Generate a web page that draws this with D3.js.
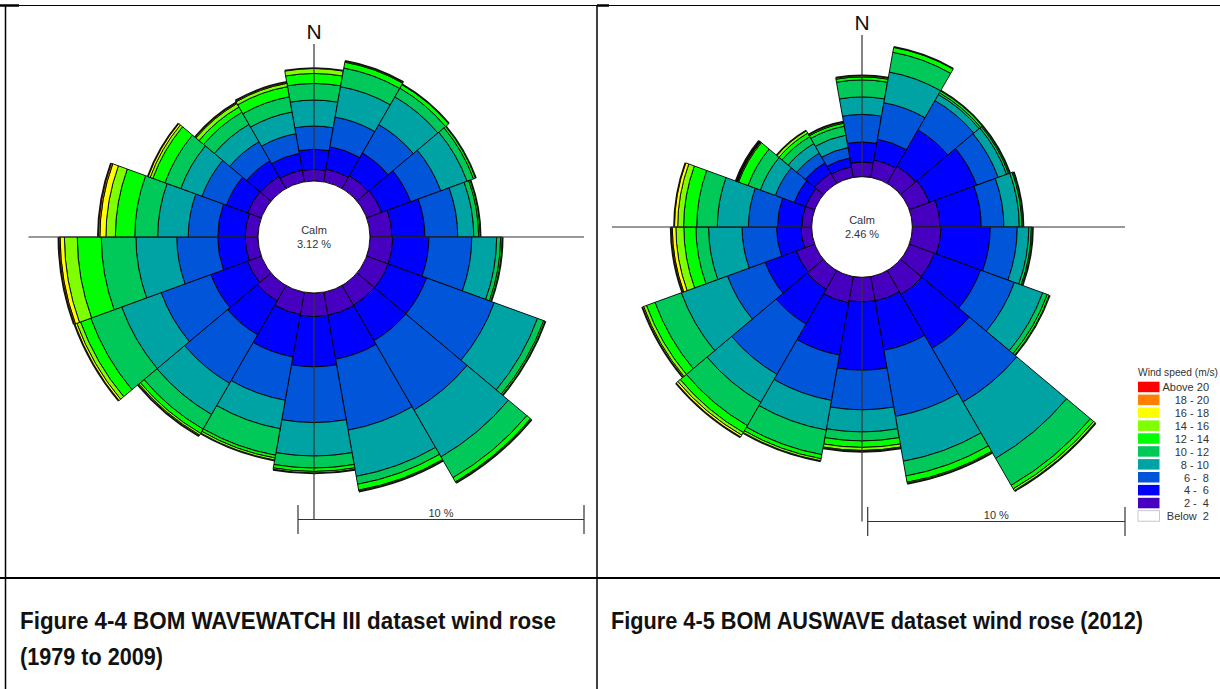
<!DOCTYPE html>
<html>
<head>
<meta charset="utf-8">
<script src="https://cdn.jsdelivr.net/npm/d3@7"></script>
<style>
  body { margin: 0; background: #fff; }
  svg text { font-family: "Liberation Sans", Arial, sans-serif; }
</style>
</head>
<body>
<svg id="chart" width="1220" height="689"></svg>
<script>
// Sector centres (deg from north, 20 deg sectors)
var directions = [0, 20, 40, 60, 80, 100, 120, 140, 160, 180, 200, 220, 240, 260, 280, 300, 320, 340];
// Speed classes stacked outwards, m/s
var speedBins = ["2 - 4", "4 - 6", "6 - 8", "8 - 10", "10 - 12", "12 - 14", "14 - 16", "16 - 18", "18 - 20", "Above 20"];
var binColors = ["#4700bf", "#0000ff", "#0055d8", "#00a3a3", "#00c95a", "#00ff00", "#80ff00", "#ffff00", "#ff8000", "#ff0000"];

// Frequency (%) per direction, one value per speed class
var wavewatchFreq = [
  [0.41, 0.70, 0.81, 0.91, 0.58, 0.35, 0.17, 0, 0, 0],
  [0.45, 0.80, 1.05, 1.08, 0.66, 0.21, 0.03, 0, 0, 0],
  [0.52, 0.91, 1.15, 1.12, 0.35, 0.14, 0, 0, 0, 0],
  [0.56, 1.08, 1.12, 0.98, 0.24, 0.07, 0, 0, 0, 0],
  [0.77, 1.15, 1.15, 0.56, 0.17, 0.05, 0, 0, 0, 0],
  [0.80, 1.26, 1.50, 0.87, 0.14, 0.05, 0, 0, 0, 0],
  [0.80, 1.43, 2.52, 1.61, 0.23, 0.05, 0, 0, 0, 0],
  [0.80, 1.43, 2.80, 1.89, 0.84, 0.17, 0.03, 0, 0, 0],
  [0.82, 1.56, 2.52, 1.64, 0.28, 0.21, 0.03, 0, 0, 0],
  [0.83, 1.75, 1.95, 1.17, 0.42, 0.12, 0.05, 0, 0, 0],
  [0.80, 1.50, 1.54, 1.01, 0.94, 0.10, 0.07, 0, 0, 0],
  [0.63, 1.36, 1.96, 1.26, 0.59, 0.17, 0.07, 0.03, 0, 0],
  [0.52, 1.36, 1.85, 1.47, 1.15, 0.38, 0.14, 0.07, 0, 0],
  [0.45, 0.96, 1.43, 1.43, 1.21, 0.84, 0.45, 0.15, 0.04, 0],
  [0.45, 0.96, 1.03, 1.07, 0.80, 0.68, 0.33, 0.21, 0.05, 0],
  [0.51, 0.79, 0.91, 0.79, 0.59, 0.45, 0.10, 0.07, 0, 0],
  [0.49, 0.63, 0.77, 0.70, 0.49, 0.21, 0.14, 0.03, 0, 0],
  [0.42, 0.59, 0.70, 0.77, 0.54, 0.36, 0.12, 0.03, 0, 0]
];
var wavewatchCalm = 3.12;

var auswaveFreq = [
  [0.57, 0.78, 1.07, 0.68, 0.66, 0.12, 0.04, 0, 0, 0],
  [0.69, 0.82, 1.44, 1.21, 0.78, 0.19, 0, 0, 0, 0],
  [0.77, 1.63, 1.32, 0.27, 0.08, 0.08, 0, 0, 0, 0],
  [0.84, 1.95, 0.89, 0.35, 0.08, 0.04, 0, 0, 0, 0],
  [1.08, 1.60, 0.88, 0.60, 0.10, 0.04, 0, 0, 0, 0],
  [1.12, 1.91, 1.05, 0.45, 0.10, 0.04, 0, 0, 0, 0],
  [1.04, 1.91, 1.40, 1.17, 0.19, 0.08, 0, 0, 0, 0],
  [1.08, 2.41, 2.41, 2.53, 1.21, 0.16, 0.08, 0, 0, 0],
  [0.96, 1.95, 2.61, 1.77, 0.58, 0.25, 0.04, 0, 0, 0],
  [0.96, 2.65, 1.54, 0.86, 0.35, 0.25, 0.12, 0.03, 0, 0],
  [1.04, 2.06, 1.79, 1.17, 0.97, 0.16, 0.08, 0, 0, 0],
  [0.84, 1.56, 2.26, 1.25, 1.05, 0.31, 0.12, 0.08, 0, 0],
  [0.77, 1.28, 1.56, 1.91, 1.09, 0.35, 0.12, 0.04, 0, 0],
  [0.42, 0.95, 1.34, 1.30, 0.49, 0.47, 0.31, 0.14, 0.04, 0],
  [0.38, 0.95, 1.13, 1.21, 0.80, 0.51, 0.23, 0.12, 0, 0],
  [0.38, 0.47, 0.78, 0.62, 0.51, 0.39, 0.04, 0.02, 0.02, 0.02],
  [0.46, 0.47, 0.43, 0.43, 0.31, 0.16, 0.10, 0, 0, 0],
  [0.42, 0.35, 0.41, 0.49, 0.35, 0.12, 0.04, 0, 0, 0]
];
var auswaveCalm = 2.46;

var legendLabels = ["Above 20", "18 - 20", "16 - 18", "14 - 16", "12 - 14", "10 - 12", "8 - 10", "6 -  8", "4 -  6", "2 -  4", "Below  2"];
var captions = [
  ["Figure 4-4 BOM WAVEWATCH III dataset wind rose", "(1979 to 2009)"],
  ["Figure 4-5 BOM AUSWAVE dataset wind rose (2012)"]
];
var captionWidths = [[536, 143], [532]];

var svg = d3.select('#chart');
var rad = Math.PI / 180;

// table grid
svg.append('line').attr('x1', 0).attr('x2', 1220).attr('y1', 5.5).attr('y2', 5.5).attr('stroke', '#000').attr('stroke-width', 1);
svg.append('line').attr('x1', 0).attr('x2', 19).attr('y1', 5.5).attr('y2', 5.5).attr('stroke', '#000').attr('stroke-width', 2.5);
svg.append('line').attr('x1', 597).attr('x2', 609).attr('y1', 5.5).attr('y2', 5.5).attr('stroke', '#000').attr('stroke-width', 2.5);
svg.append('line').attr('x1', 5.5).attr('x2', 5.5).attr('y1', 5).attr('y2', 689).attr('stroke', '#000').attr('stroke-width', 1.5);
svg.append('line').attr('x1', 597).attr('x2', 597).attr('y1', 5).attr('y2', 689).attr('stroke', '#000').attr('stroke-width', 1.5);
svg.append('line').attr('x1', 0).attr('x2', 1220).attr('y1', 578).attr('y2', 578).attr('stroke', '#000').attr('stroke-width', 2);

function drawRose(rose) {
  var g = svg.append('g').attr('transform', 'translate(' + rose.cx + ',' + rose.cy + ')');
  var r = d3.scaleLinear().domain([0, 10]).range([rose.calmRadius, rose.calmRadius + rose.tenPct]);
  var arc = d3.arc();

  // build stacked cells
  var cells = [], outers = [];
  rose.freq.forEach(function(row, i) {
    var cum = 0;
    row.forEach(function(v, j) {
      if (v > 0) {
        cells.push({ dir: directions[i], bin: j, from: cum, to: cum + v });
        cum += v;
      }
    });
    outers.push({ dir: directions[i], total: cum });
  });

  g.selectAll('path.cell')
    .data(cells)
    .enter()
    .append('path')
    .attr('class', 'cell')
    .attr('d', function(d) {
      return arc({ innerRadius: r(d.from), outerRadius: r(d.to),
                   startAngle: (d.dir - 10) * rad, endAngle: (d.dir + 10) * rad });
    })
    .attr('fill', function(d) { return binColors[d.bin]; })
    .attr('stroke', '#000')
    .attr('stroke-width', 0.9)
    .attr('stroke-linejoin', 'round');

  // darker rim on each sector
  g.selectAll('path.rim')
    .data(outers)
    .enter()
    .append('path')
    .attr('class', 'rim')
    .attr('d', function(d) {
      var p = d3.path();
      p.arc(0, 0, r(d.total) + 0.6, (d.dir - 10 - 90) * rad, (d.dir + 10 - 90) * rad);
      return p.toString();
    })
    .attr('fill', 'none')
    .attr('stroke', '#111')
    .attr('stroke-width', 1.6);

  // axis cross
  g.append('line').attr('x1', 0).attr('x2', 0).attr('y1', rose.axTop - rose.cy).attr('y2', rose.axBottom - rose.cy)
    .attr('stroke', '#333').attr('stroke-width', 1.2);
  g.append('line').attr('x1', rose.axLeft - rose.cx).attr('x2', rose.axRight - rose.cx).attr('y1', 0).attr('y2', 0)
    .attr('stroke', '#333').attr('stroke-width', 1.2);

  // calm circle
  g.append('circle').attr('r', r(0)).attr('fill', '#fff').attr('stroke', '#000').attr('stroke-width', 0.9);
  g.append('text').attr('x', 0).attr('y', -3).attr('text-anchor', 'middle')
    .attr('font-size', 11).attr('fill', '#333').text('Calm');
  g.append('text').attr('x', 0).attr('y', 11).attr('text-anchor', 'middle')
    .attr('font-size', 11).attr('fill', '#333').text(rose.calm.toFixed(2) + ' %');

  // north label
  svg.append('text').attr('x', rose.cx).attr('y', rose.nY).attr('text-anchor', 'middle')
    .attr('font-size', 21).attr('fill', '#111').text('N');

  // 10 % scale bar, from the same radial scale
  var barLen = r(10) - r(0);
  var sb = svg.append('g').attr('transform', 'translate(' + rose.barX + ',' + rose.barY + ')');
  sb.append('line').attr('x1', 0).attr('x2', barLen).attr('y1', 0).attr('y2', 0).attr('stroke', '#333').attr('stroke-width', 1.2);
  sb.append('line').attr('x1', 0).attr('x2', 0).attr('y1', -14.5).attr('y2', 14.5).attr('stroke', '#333').attr('stroke-width', 1.2);
  sb.append('line').attr('x1', barLen).attr('x2', barLen).attr('y1', -14.5).attr('y2', 14.5).attr('stroke', '#333').attr('stroke-width', 1.2);
  sb.append('text').attr('x', barLen / 2).attr('y', -3).attr('text-anchor', 'middle')
    .attr('font-size', 11).attr('fill', '#333').text('10 %');
}

drawRose({ freq: wavewatchFreq, calm: wavewatchCalm, cx: 314, cy: 237, calmRadius: 56, tenPct: 286,
           axTop: 44, axBottom: 520, axLeft: 28.5, axRight: 584, nY: 39, barX: 298, barY: 519.5 });
drawRose({ freq: auswaveFreq, calm: auswaveCalm, cx: 862, cy: 227, calmRadius: 50.3, tenPct: 257.3,
           axTop: 35, axBottom: 521.5, axLeft: 612, axRight: 1125, nY: 29.5, barX: 867.7, barY: 521.5 });

// legend
var lg = svg.append('g').attr('transform', 'translate(1138,0)');
lg.append('text').attr('x', 0).attr('y', 375.5).attr('font-size', 10.5).attr('fill', '#333')
  .attr('textLength', 80).attr('lengthAdjust', 'spacingAndGlyphs').text('Wind speed (m/s)');
var legendColors = binColors.slice().reverse().concat(['#ffffff']);
var rows = lg.selectAll('g.row')
  .data(legendLabels)
  .enter()
  .append('g')
  .attr('class', 'row')
  .attr('transform', function(d, i) { return 'translate(0,' + (381.7 + i * 12.9) + ')'; });
rows.append('rect')
  .attr('width', 21.5).attr('height', 10.5)
  .attr('fill', function(d, i) { return legendColors[i]; })
  .attr('stroke', function(d, i) { return i === legendLabels.length - 1 ? '#bbb' : 'none'; })
  .attr('stroke-width', 0.8);
rows.append('text')
  .attr('x', 71).attr('y', 9.5)
  .attr('text-anchor', 'end')
  .attr('font-size', 11)
  .attr('fill', '#333')
  .style('white-space', 'pre')
  .text(function(d) { return d; });

// captions
var capX = [20, 611];
captions.forEach(function(lines, k) {
  lines.forEach(function(t, m) {
    svg.append('text').attr('x', capX[k]).attr('y', 629 + m * 36)
      .attr('font-size', 24).attr('font-weight', 'bold').attr('fill', '#111')
      .attr('textLength', captionWidths[k][m]).attr('lengthAdjust', 'spacingAndGlyphs')
      .text(t);
  });
});
</script>
</body>
</html>
